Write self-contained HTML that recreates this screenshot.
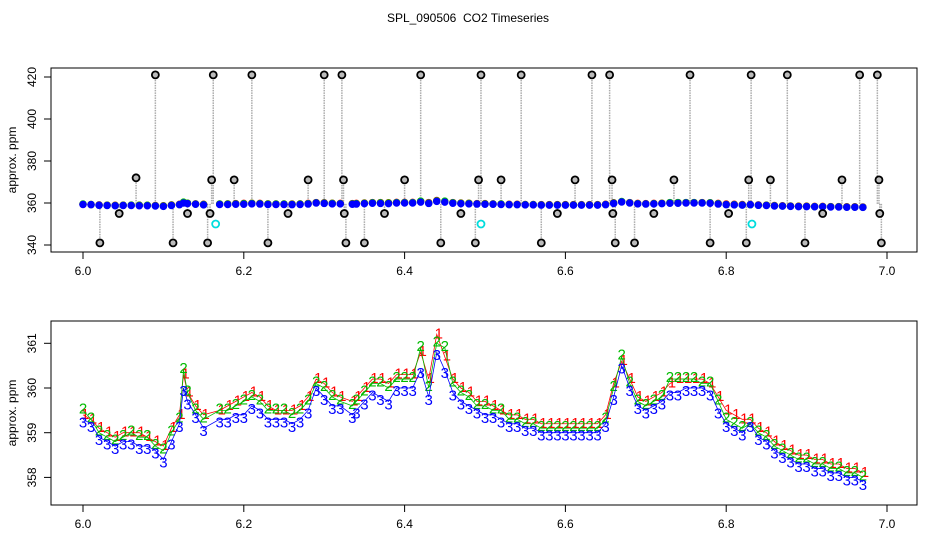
<!DOCTYPE html>
<html><head><meta charset="utf-8"><style>
body{margin:0;background:#fff;}
svg{display:block;font-family:"Liberation Sans",sans-serif;}
</style></head><body>
<svg id="chart" width="936" height="540" viewBox="0 0 936 540" xmlns="http://www.w3.org/2000/svg">
<rect width="936" height="540" fill="#fff"/>
<text x="468" y="22" font-size="12" text-anchor="middle">SPL_090506 &#160;CO2 Timeseries</text>
<g id="gtop"></g>
<g id="gbot"></g>
</svg>
<script>
const times = [6.00,6.01,6.02,6.03,6.04,6.05,6.06,6.07,6.08,6.09,6.10,6.11,6.12,6.125,6.13,6.14,6.15,6.17,6.18,6.19,6.20,6.21,6.22,6.23,6.24,6.25,6.26,6.27,6.28,6.29,6.30,6.31,6.32,6.335,6.34,6.35,6.36,6.37,6.38,6.39,6.40,6.41,6.42,6.43,6.44,6.45,6.46,6.47,6.48,6.49,6.50,6.51,6.52,6.53,6.54,6.55,6.56,6.57,6.58,6.59,6.60,6.61,6.62,6.63,6.64,6.65,6.66,6.67,6.68,6.69,6.70,6.71,6.72,6.73,6.74,6.75,6.76,6.77,6.78,6.79,6.80,6.81,6.82,6.83,6.84,6.85,6.86,6.87,6.88,6.89,6.90,6.91,6.92,6.93,6.94,6.95,6.96,6.97];
const series3 = [359.3,359.2,358.9,358.8,358.7,358.8,358.8,358.7,358.7,358.6,358.4,358.8,359.2,360.0,359.7,359.4,359.1,359.3,359.3,359.4,359.4,359.6,359.5,359.3,359.3,359.3,359.2,359.3,359.5,360.0,359.8,359.6,359.6,359.4,359.5,359.7,359.9,359.8,359.7,360.0,360.0,360.0,360.4,359.8,360.8,360.4,359.9,359.7,359.6,359.5,359.4,359.4,359.3,359.2,359.2,359.1,359.1,359.0,359.0,359.0,359.0,359.0,359.0,359.0,359.0,359.2,359.8,360.5,360.0,359.6,359.5,359.6,359.7,359.9,359.9,360.0,360.0,360.0,359.9,359.5,359.2,359.1,359.0,359.2,358.9,358.8,358.6,358.5,358.4,358.3,358.3,358.2,358.2,358.1,358.1,358.0,358.0,357.9];
const series1 = [359.4,359.3,359.1,359.0,358.9,359.0,359.0,359.0,358.9,358.8,358.7,359.1,359.4,360.3,359.9,359.6,359.4,359.5,359.6,359.7,359.8,359.9,359.8,359.6,359.5,359.5,359.5,359.6,359.8,360.2,360.1,359.9,359.8,359.7,359.8,360.0,360.2,360.2,360.1,360.3,360.3,360.3,360.8,360.2,361.2,360.7,360.2,360.0,359.9,359.7,359.7,359.6,359.5,359.4,359.4,359.3,359.3,359.2,359.2,359.2,359.2,359.2,359.2,359.2,359.2,359.4,360.1,360.6,360.2,359.8,359.7,359.8,359.9,360.1,360.2,360.2,360.2,360.2,360.1,359.8,359.5,359.4,359.3,359.3,359.1,359.0,358.8,358.7,358.6,358.5,358.5,358.4,358.4,358.3,358.3,358.2,358.2,358.1];
const series2 = [359.5,359.3,359.0,358.9,358.8,358.9,359.0,358.9,358.9,358.7,358.6,359.0,359.3,360.4,359.9,359.5,359.3,359.5,359.5,359.6,359.7,359.8,359.7,359.5,359.5,359.5,359.4,359.5,359.7,360.1,360.0,359.8,359.7,359.6,359.7,359.9,360.1,360.1,360.0,360.2,360.2,360.2,360.9,360.0,361.0,360.9,360.1,359.9,359.8,359.6,359.6,359.5,359.5,359.3,359.3,359.2,359.2,359.1,359.1,359.1,359.1,359.1,359.1,359.1,359.1,359.3,360.0,360.7,360.1,359.7,359.6,359.7,359.8,360.2,360.2,360.2,360.2,360.1,360.1,359.7,359.3,359.2,359.1,359.2,359.0,358.9,358.7,358.6,358.5,358.4,358.4,358.3,358.3,358.2,358.2,358.1,358.1,358.0];
const outlierTimes = [6.021,6.045,6.066,6.09,6.112,6.13,6.155,6.158,6.160,6.162,6.188,6.21,6.23,6.255,6.28,6.30,6.322,6.324,6.325,6.327,6.35,6.375,6.40,6.42,6.445,6.47,6.488,6.492,6.495,6.52,6.545,6.57,6.59,6.612,6.633,6.655,6.658,6.659,6.662,6.686,6.71,6.735,6.755,6.78,6.803,6.825,6.828,6.831,6.855,6.876,6.898,6.92,6.944,6.966,6.988,6.990,6.991,6.993];
const outlierValues = [341,355,372,421,341,355,341,355,371,421,371,421,341,355,371,421,421,371,355,341,341,355,371,421,341,355,341,371,421,371,421,341,355,371,421,421,371,355,341,341,355,371,421,341,355,341,371,421,371,421,341,355,371,421,421,371,355,341];
const flagTimes = [6.165,6.495,6.832];
const flagValues = [350,350,350];
const topTicks = [340,360,380,400,420];
const botTicks = [358,359,360,361];
const xTicks = [6.0,6.2,6.4,6.6,6.8,7.0];

const NS="http://www.w3.org/2000/svg";
function el(tag,attrs,parent,txt){const e=document.createElementNS(NS,tag);for(const k in attrs)e.setAttribute(k,attrs[k]);if(txt!==undefined)e.textContent=txt;parent.appendChild(e);return e;}
const xS=t=>83+(t-6)*804;
const yTop=v=>77+(420-v)*2.1;
const yBot=v=>388-(v-360)*44.7;
const gTop=document.getElementById('gtop'), gBot=document.getElementById('gbot');

function frame(g,y0,y1,yS,ticks,name){
  const r=el('rect',{x:51,y:y0,width:866,height:y1-y0,fill:'none',stroke:'#000','stroke-width':1},g);
  
  
  ticks.forEach(v=>{const y=yS(v);
    const l=el('line',{x1:44,x2:51,y1:y,y2:y,stroke:'#000'},g);
    
    
    const t=el('text',{x:0,y:0,'font-size':12,'text-anchor':'middle',transform:`translate(36,${y}) rotate(-90)`},g,String(v));
    
    
  });
  xTicks.forEach(v=>{const x=xS(v);
    const l=el('line',{x1:x,x2:x,y1:y1,y2:y1+7,stroke:'#000'},g);
    
    
    const t=el('text',{x:x,y:y1+23,'font-size':12,'text-anchor':'middle'},g,v.toFixed(1));
    
    
  });
  const cy=(y0+y1)/2;
  const at=el('text',{x:0,y:0,'font-size':12,'text-anchor':'middle',transform:`translate(16,${cy}) rotate(-90)`},g,'approx. ppm');
  
  
}
frame(gTop,68,252,yTop,topTicks,'top');
frame(gBot,321,505,yBot,botTicks,'bottom');

outlierTimes.forEach((t,i)=>{
  const l=el('line',{x1:xS(t),x2:xS(t),y1:yTop(359.6),y2:yTop(outlierValues[i]),stroke:'#aaa','stroke-width':1.5,'stroke-dasharray':'1.5,1'},gTop);
  
  
});
[['series1','#f00',series1],['series2','#0c0',series2],['series3','#00f',series3]].forEach(([n,c,arr])=>{
  arr.forEach((v,i)=>{
    const ci=el('circle',{cx:xS(times[i]),cy:yTop(v),r:3,fill:c,stroke:c,'stroke-width':1.5},gTop);
    
    
  });
});
outlierTimes.forEach((t,i)=>{
  const c=el('circle',{cx:xS(t),cy:yTop(outlierValues[i]),r:3.5,fill:'#bbb',stroke:'#000','stroke-width':1.8},gTop);
  
  
});
flagTimes.forEach((t,i)=>{
  const c=el('circle',{cx:xS(t),cy:yTop(flagValues[i]),r:3.5,fill:'none',stroke:'#0dd','stroke-width':1.8},gTop);
  
  
});

[['1','#f00',series1,2,-1],['2','#0b0',series2,0,-2],['3','#00f',series3,0,3]].forEach(([lab,c,arr,dx,dy])=>{
  const pts=arr.map((v,i)=>xS(times[i])+','+yBot(v)).join(' ');
  const pl=el('polyline',{points:pts,fill:'none',stroke:c,'stroke-width':0.8},gBot);
  
  
  arr.forEach((v,i)=>{
    const t=el('text',{x:xS(times[i])+dx,y:yBot(v)+5+dy,'font-size':15,'text-anchor':'middle',fill:c},gBot,lab);
    
    
  });
});
</script>
</body></html>
